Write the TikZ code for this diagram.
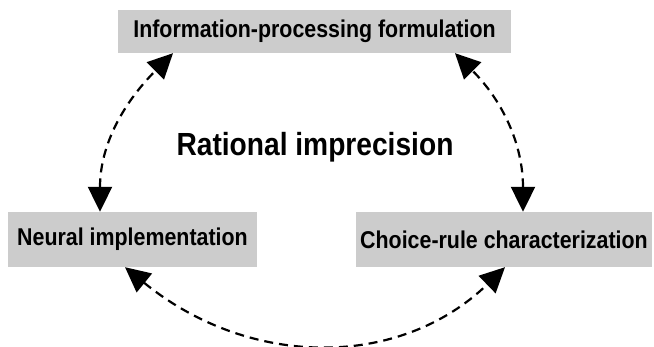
\documentclass[tikz,border=0pt]{standalone}
\usepackage{fontspec}
\setmainfont[FakeStretch=0.88]{Liberation Sans}
\usetikzlibrary{arrows.meta}
\definecolor{boxgray}{HTML}{CCCCCC}
\tikzset{
  stagebox/.style={fill=boxgray, draw=none, inner sep=0pt, font=\fontsize{24.3}{27}\selectfont\bfseries, text=black},
  linkarrow/.style={line width=2.2pt, dash pattern=on 9pt off 6pt, {Triangle[length=25pt,width=24pt]}-{Triangle[length=25pt,width=24pt]}}
}
\begin{document}
\begin{tikzpicture}[x=1pt,y=-1pt]
\useasboundingbox (0,0) rectangle (654,347);
\node[stagebox, minimum width=393pt, minimum height=43pt] (top) at (314.5,31.5) {Information-processing formulation};
\node[stagebox, minimum width=249pt, minimum height=55pt] (nl) at (132.5,239.5) {Neural implementation};
\node[stagebox, minimum width=296pt, minimum height=55pt] (rc) at (504,239.5) {Choice-rule characterization};
\node[font=\fontsize{32}{36}\selectfont\bfseries, inner sep=0pt, anchor=base] (title) at (315,156) {Rational imprecision};
\draw[linkarrow] ([xshift=-32.5pt]nl.north) to[out=90,in=225] ([xshift=-141.5pt]top.south);
\draw[linkarrow] ([xshift=19pt]rc.north) to[out=90,in=-45] ([xshift=140.5pt]top.south);
\draw[linkarrow] ([xshift=-7.5pt]nl.south) .. controls (250,369) and (400,369) .. ([xshift=1pt]rc.south);
\end{tikzpicture}
\end{document}
